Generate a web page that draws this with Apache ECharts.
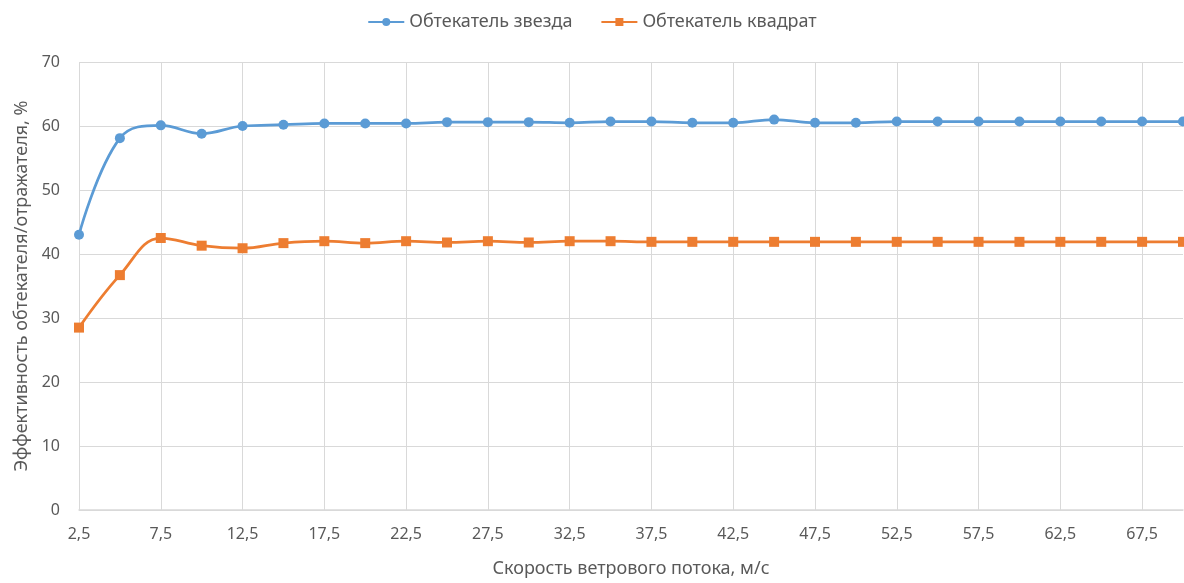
<!DOCTYPE html>
<html><head><meta charset="utf-8">
<script src="https://cdn.jsdelivr.net/npm/echarts@6/dist/echarts.min.js"></script>
<style>html,body{margin:0;padding:0;background:#fff}#c{width:1184px;height:583px}</style>
</head><body><div id="c"></div>
<script>
var categories = ['2,5','5','7,5','10','12,5','15','17,5','20','22,5','25','27,5','30','32,5','35','37,5','40','42,5','45','47,5','50','52,5','55','57,5','60','62,5','65','67,5','70'];
var starValues = [43.0,58.1,60.1,58.8,60.0,60.2,60.4,60.4,60.4,60.6,60.6,60.6,60.5,60.7,60.7,60.5,60.5,61.0,60.5,60.5,60.7,60.7,60.7,60.7,60.7,60.7,60.7,60.7];
var squareValues = [28.5,36.7,42.5,41.3,40.9,41.7,42.0,41.7,42.0,41.8,42.0,41.8,42.0,42.0,41.9,41.9,41.9,41.9,41.9,41.9,41.9,41.9,41.9,41.9,41.9,41.9,41.9,41.9];
var seriesNames = ['Обтекатель звезда','Обтекатель квадрат'];
var xTitle = 'Скорость ветрового потока, м/с';
var yTitle = 'Эффективность обтекателя/отражателя, %';

var font = 'Noto Sans';
var chart = echarts.init(document.getElementById('c'));
chart.setOption({
  animation: false,
  textStyle: {fontFamily: font},
  legend: {
    top: 8, left: 'center', itemGap: 28, itemWidth: 36, itemHeight: 10,
    textStyle: {fontFamily: font, fontSize: 18, color: '#595959'},
    data: seriesNames
  },
  grid: {left: 79, right: 1, top: 62, bottom: 70, containLabel: false},
  xAxis: {
    type: 'category', data: categories, boundaryGap: false,
    name: xTitle, nameLocation: 'middle', nameGap: 50,
    nameTextStyle: {fontFamily: font, fontSize: 18, color: '#595959'},
    axisLine: {lineStyle: {color: '#D9D9D9', width: 1.5}},
    axisTick: {show: false},
    axisLabel: {interval: 1, color: '#595959', fontSize: 16, fontFamily: font, margin: 16},
    splitLine: {show: true, interval: 1, lineStyle: {color: '#D9D9D9', width: 1}}
  },
  yAxis: {
    type: 'value', min: 0, max: 70, interval: 10,
    name: yTitle, nameLocation: 'middle', nameGap: 48, nameRotate: 90,
    nameTextStyle: {fontFamily: font, fontSize: 18, color: '#595959'},
    axisLine: {show: false}, axisTick: {show: false},
    axisLabel: {color: '#595959', fontSize: 16, fontFamily: font, margin: 19},
    splitLine: {lineStyle: {color: '#D9D9D9', width: 1}}
  },
  series: [
    {name: seriesNames[0], type: 'line', data: starValues, smooth: 0.4,
     symbol: 'circle', symbolSize: 10,
     lineStyle: {color: '#5B9BD5', width: 2.75}, itemStyle: {color: '#5B9BD5'}},
    {name: seriesNames[1], type: 'line', data: squareValues, smooth: 0.4,
     symbol: 'rect', symbolSize: 10,
     lineStyle: {color: '#ED7D31', width: 2.75}, itemStyle: {color: '#ED7D31'}}
  ]
});
</script></body></html>
